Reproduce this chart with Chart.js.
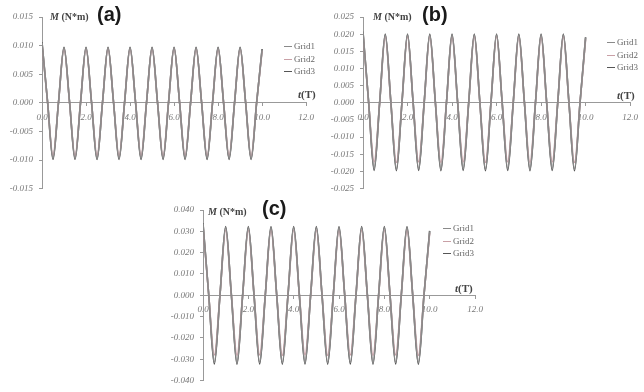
<!DOCTYPE html>
<html>
<head>
<meta charset="utf-8">
<script src="https://cdn.jsdelivr.net/npm/chart.js@4"></script>
<style>
  body { margin: 0; background: #fff; width: 644px; height: 392px; position: relative; overflow: hidden; }
  .box { position: absolute; }
  .lbl { position: absolute; font-family: "Liberation Serif", serif; font-weight: bold; color: #444; white-space: nowrap; }
  .tag { position: absolute; font-family: "Liberation Sans", Arial, sans-serif; font-weight: bold; font-size: 20px; color: #1a1a1a; }
  .leg { position: absolute; font-family: "Liberation Serif", serif; font-size: 9px; color: #666; line-height: 12.5px; }
  .leg span { display: inline-block; width: 8px; height: 1px; vertical-align: middle; margin-right: 2px; }
</style>
</head>
<body>
<div class="box" style="left:0;top:0;width:320px;height:200px"><canvas id="chartA"></canvas></div>
<div class="box" style="left:320px;top:0;width:324px;height:200px"><canvas id="chartB"></canvas></div>
<div class="box" style="left:160px;top:195px;width:340px;height:197px"><canvas id="chartC"></canvas></div>

<div class="lbl" style="left:50px;top:11px;font-size:10px"><i>M</i> (N*m)</div>
<div class="tag" style="left:97px;top:3px">(a)</div>
<div class="lbl" style="left:298px;top:88px;font-size:11px"><i>t</i>(T)</div>
<div class="leg" style="left:284px;top:40px"><span style="background:#8a8a8a"></span>Grid1<br><span style="background:#c9a0a6"></span>Grid2<br><span style="background:#555"></span>Grid3</div>

<div class="lbl" style="left:373px;top:11px;font-size:10px"><i>M</i> (N*m)</div>
<div class="tag" style="left:422px;top:3px">(b)</div>
<div class="lbl" style="left:617px;top:89px;font-size:11px"><i>t</i>(T)</div>
<div class="leg" style="left:607px;top:36px"><span style="background:#8a8a8a"></span>Grid1<br><span style="background:#c9a0a6"></span>Grid2<br><span style="background:#555"></span>Grid3</div>

<div class="lbl" style="left:208px;top:206px;font-size:10px"><i>M</i> (N*m)</div>
<div class="tag" style="left:262px;top:197px">(c)</div>
<div class="lbl" style="left:455px;top:282px;font-size:11px"><i>t</i>(T)</div>
<div class="leg" style="left:443px;top:222px"><span style="background:#8a8a8a"></span>Grid1<br><span style="background:#c9a0a6"></span>Grid2<br><span style="background:#555"></span>Grid3</div>

<script>
// time in periods
const tValues = [0,0.25,0.5,0.75, 1,1.25,1.5,1.75, 2,2.25,2.5,2.75, 3,3.25,3.5,3.75,
  4,4.25,4.5,4.75, 5,5.25,5.5,5.75, 6,6.25,6.5,6.75, 7,7.25,7.5,7.75,
  8,8.25,8.5,8.75, 9,9.25,9.5,9.75, 10];
const seriesNames = ["Grid1", "Grid2", "Grid3"];
const seriesColors = ["#8a8a8a", "#c9a0a6", "#555555"];

// (a) moment, N*m
const gridA1 = [0.0105,0.0003,-0.0097,0.0001, 0.0096,0.0002,-0.0097,0.0000, 0.0096,0.0001,-0.0098,0.0001,
  0.0096,0.0001,-0.0097,0.0000, 0.0096,0.0001,-0.0097,0.0001, 0.0096,0.0000,-0.0097,0.0001,
  0.0096,0.0001,-0.0097,0.0000, 0.0096,0.0001,-0.0097,0.0001, 0.0096,0.0000,-0.0097,0.0001,
  0.0096,0.0001,-0.0097,0.0000, 0.0093];
const gridA2 = [0.0102,0.0002,-0.0092,0.0001, 0.0094,0.0001,-0.0093,0.0000, 0.0094,0.0001,-0.0092,0.0001,
  0.0095,0.0001,-0.0093,0.0000, 0.0094,0.0001,-0.0092,0.0001, 0.0094,0.0000,-0.0093,0.0001,
  0.0095,0.0001,-0.0092,0.0000, 0.0094,0.0001,-0.0093,0.0001, 0.0094,0.0000,-0.0092,0.0001,
  0.0094,0.0001,-0.0093,0.0000, 0.0091];
const gridA3 = [0.0106,0.0003,-0.0099,0.0001, 0.0097,0.0002,-0.0099,0.0000, 0.0097,0.0001,-0.0099,0.0001,
  0.0097,0.0001,-0.0099,0.0000, 0.0097,0.0001,-0.0099,0.0001, 0.0097,0.0000,-0.0099,0.0001,
  0.0097,0.0001,-0.0099,0.0000, 0.0097,0.0001,-0.0099,0.0001, 0.0097,0.0000,-0.0099,0.0001,
  0.0097,0.0001,-0.0099,0.0000, 0.0094];

// (b)
const gridB1 = [0.0206,0.0004,-0.0192,0.0002, 0.0198,0.0003,-0.0193,0.0001, 0.0198,0.0002,-0.0192,0.0002,
  0.0198,0.0002,-0.0193,0.0001, 0.0198,0.0002,-0.0192,0.0002, 0.0198,0.0001,-0.0193,0.0002,
  0.0198,0.0002,-0.0192,0.0001, 0.0198,0.0002,-0.0193,0.0002, 0.0198,0.0001,-0.0192,0.0002,
  0.0198,0.0002,-0.0193,0.0001, 0.0190];
const gridB2 = [0.0200,0.0003,-0.0172,0.0002, 0.0192,0.0002,-0.0174,0.0001, 0.0192,0.0002,-0.0172,0.0002,
  0.0193,0.0002,-0.0174,0.0001, 0.0192,0.0002,-0.0172,0.0002, 0.0192,0.0001,-0.0174,0.0002,
  0.0193,0.0002,-0.0172,0.0001, 0.0192,0.0002,-0.0174,0.0002, 0.0192,0.0001,-0.0172,0.0002,
  0.0192,0.0002,-0.0174,0.0001, 0.0185];
const gridB3 = [0.0207,0.0004,-0.0197,0.0002, 0.0200,0.0003,-0.0198,0.0001, 0.0200,0.0002,-0.0197,0.0002,
  0.0200,0.0002,-0.0198,0.0001, 0.0200,0.0002,-0.0197,0.0002, 0.0200,0.0001,-0.0198,0.0002,
  0.0200,0.0002,-0.0197,0.0001, 0.0200,0.0002,-0.0198,0.0002, 0.0200,0.0001,-0.0197,0.0002,
  0.0200,0.0002,-0.0198,0.0001, 0.0191];

// (c)
const gridC1 = [0.0335,0.0006,-0.0315,0.0003, 0.0318,0.0004,-0.0316,0.0002, 0.0318,0.0003,-0.0315,0.0003,
  0.0318,0.0003,-0.0316,0.0002, 0.0318,0.0003,-0.0315,0.0003, 0.0318,0.0002,-0.0316,0.0003,
  0.0318,0.0003,-0.0315,0.0002, 0.0318,0.0003,-0.0316,0.0003, 0.0318,0.0002,-0.0315,0.0003,
  0.0318,0.0003,-0.0316,0.0002, 0.0300];
const gridC2 = [0.0325,0.0005,-0.0280,0.0003, 0.0305,0.0004,-0.0282,0.0002, 0.0305,0.0003,-0.0280,0.0003,
  0.0306,0.0003,-0.0282,0.0002, 0.0305,0.0003,-0.0280,0.0003, 0.0305,0.0002,-0.0282,0.0003,
  0.0306,0.0003,-0.0280,0.0002, 0.0305,0.0003,-0.0282,0.0003, 0.0305,0.0002,-0.0280,0.0003,
  0.0305,0.0003,-0.0282,0.0002, 0.0292];
const gridC3 = [0.0338,0.0006,-0.0322,0.0003, 0.0322,0.0004,-0.0323,0.0002, 0.0322,0.0003,-0.0322,0.0003,
  0.0322,0.0003,-0.0323,0.0002, 0.0322,0.0003,-0.0322,0.0003, 0.0322,0.0002,-0.0323,0.0003,
  0.0322,0.0003,-0.0322,0.0002, 0.0322,0.0003,-0.0323,0.0003, 0.0322,0.0002,-0.0322,0.0003,
  0.0322,0.0003,-0.0323,0.0002, 0.0302];

function makeChart(id, series, yMin, yMax, yStep, pad) {
  const datasets = series.map((vals, i) => ({
    label: seriesNames[i],
    data: vals.map((v, k) => ({x: tValues[k], y: v})),
    borderColor: seriesColors[i],
    borderWidth: 1.6,
    pointRadius: 0,
    cubicInterpolationMode: 'monotone',
    fill: false
  }));
  const tickFont = {family: "'Liberation Serif', serif", size: 9, style: 'italic'};
  new Chart(document.getElementById(id), {
    type: 'line',
    data: {datasets: datasets},
    options: {
      responsive: true,
      maintainAspectRatio: false,
      animation: false,
      layout: {padding: pad},
      plugins: {legend: {display: false}, tooltip: {enabled: false}},
      scales: {
        x: {
          type: 'linear',
          position: {y: 0},
          min: 0, max: 12,
          ticks: {stepSize: 2, color: '#777', font: tickFont, padding: 6,
                  callback: (v) => v.toFixed(1)},
          grid: {display: true, drawOnChartArea: false, tickLength: 3, color: '#999'},
          border: {color: '#999', width: 1}
        },
        y: {
          min: yMin, max: yMax,
          afterFit: (s) => { s.width = 40; },
          ticks: {stepSize: yStep, color: '#777', font: tickFont, padding: 6,
                  callback: (v) => (Math.abs(v) < 1e-9 ? 0 : v).toFixed(3)},
          grid: {display: true, drawOnChartArea: false, tickLength: 3, color: '#999'},
          border: {color: '#999', width: 1}
        }
      }
    }
  });
}

makeChart('chartA', [gridA1, gridA2, gridA3], -0.015, 0.015, 0.005, {left: 2, right: 5, top: 17, bottom: 11});
makeChart('chartB', [gridB1, gridB2, gridB3], -0.025, 0.025, 0.005, {left: 3, right: 7, top: 17, bottom: 8});
makeChart('chartC', [gridC1, gridC2, gridC3], -0.040, 0.040, 0.010, {left: 3, right: 25, top: 15, bottom: 10});
</script>
</body>
</html>
